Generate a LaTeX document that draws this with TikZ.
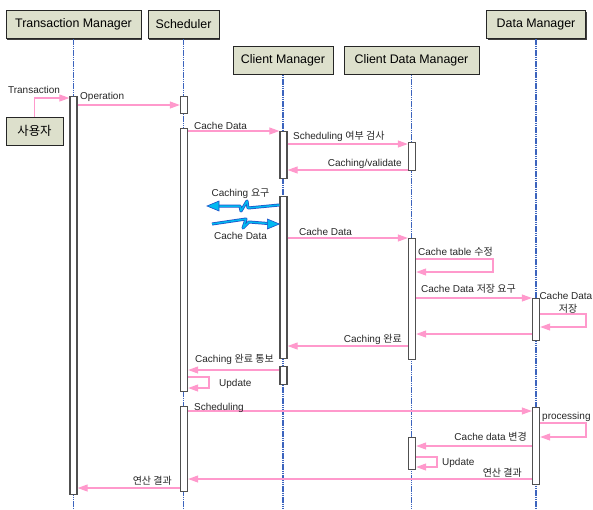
\documentclass[tikz,border=0pt]{standalone}
\usepackage{fontspec}
\setmainfont{Liberation Sans}
\newfontfamily\kr{Noto Sans CJK KR}
\usetikzlibrary{arrows.meta,positioning,shadows}
\definecolor{hdrfill}{RGB}{221,224,204}
\definecolor{msgpink}{RGB}{255,153,204}
\definecolor{lifeblue}{RGB}{60,100,190}
\definecolor{boltcyan}{RGB}{0,185,240}
\definecolor{boltblue}{RGB}{30,80,200}
\definecolor{actgray}{RGB}{80,80,80}

\begin{document}
\begin{tikzpicture}[x=1pt,y=-1pt,
	hdr/.style={draw=black!85, fill=hdrfill, line width=1pt, minimum height=28pt, inner sep=0pt,
		font=\fontsize{12.4}{14}\selectfont, drop shadow={shadow xshift=1.2pt,shadow yshift=-1.2pt,fill=black!75,opacity=1}},
	life/.style={draw=lifeblue, line width=1.1pt, dash pattern=on 1.6pt off .6pt},
	act/.style={draw=actgray, fill=white, line width=1.3pt, minimum width=7pt, inner sep=0pt, anchor=north},
	msg/.style={draw=msgpink, line width=1.1pt, -{Triangle[length=10pt,width=7pt]}},
	lbl/.style={font=\fontsize{10}{12}\selectfont, inner sep=0pt, text=black!85},
	bolt/.style={draw=boltblue, line width=3pt, line join=round},
	boltin/.style={draw=boltcyan, line width=1.5pt, line join=round},
	bolthead/.style={fill=boltcyan, draw=boltblue, line width=.6pt}]
	\useasboundingbox (0,0) rectangle (593,509);
	% heads
	\node[hdr, minimum width=135pt] (tm) at (73.5,24.5) {Transaction Manager};
	\node[hdr, minimum width=71pt] (sc) at (183.5,24.5) {Scheduler};
	\node[hdr, minimum width=100pt] (cm) at (283,60) {Client Manager};
	\node[hdr, minimum width=135pt] (cdm) at (411.5,60) {Client Data Manager};
	\node[hdr, minimum width=99pt] (dm) at (536,24.5) {Data Manager};
	\node[hdr, minimum width=57pt] (us) at (34.5,131) {\kr 사용자};
	\foreach \h in {tm,sc,cm,cdm,dm}
		\draw[life] (\h.south) -- (\h.south |- 0,509);
	% activations
	\foreach \n/\x/\t/\b in {ta1/73.5/96/494, sa1/184/96/113, sa2/184/128/391, sa3/184/406/491,
			ca1/283.5/131/178, ca2/283.5/196/358, ca3/283.5/366/384,
			da1/412/142/170, da2/412/238/359, da3/412/437/469,
			ma1/536/298/340, ma2/536/407/484}
		\node[act, minimum height={(\b-\t)*1pt}] (\n) at (\x,\t) {};
	% messages
	\draw[msg] (us.north) |- (ta1.west |- 0,98);
	\node[lbl, anchor=base] (lTr) at (34,93) {Transaction};
	\draw[msg] (ta1.east |- 0,105) -- (sa1.west |- 0,105);
	\node[lbl, anchor=base west] (lOp) at (80,99.5) {Operation};
	\draw[msg] (sa2.east |- 0,131) -- (ca1.west |- 0,131);
	\node[lbl, anchor=base west] (lCd1) at (194,129) {Cache Data};
	\draw[msg] (ca1.east |- 0,144) -- (da1.west |- 0,144);
	\node[lbl, anchor=base west] (lSch) at (293,139) {Scheduling {\kr 여부 검사}};
	\draw[msg] (da1.west |- 0,170) -- (ca1.east |- 0,170);
	\node[lbl, anchor=base east] (lVal) at (402,166.5) {Caching/validate};
	% wireless
	\coordinate (bt1) at (207,206);
	\coordinate (bt2) at (212,224);
	\draw[bolt] (ca2.west |- 0,205) -- (248,208) -- (247,201) -- (241,211) -- (240,206) -- (218,206);
	\draw[boltin] (ca2.west |- 0,205) -- (248,208) -- (247,201) -- (241,211) -- (240,206) -- (218,206);
	\filldraw[bolthead] (bt1) -- ++(12,-5) -- ++(0,10) -- cycle;
	\node[lbl, anchor=base] (lReq) at (240.5,196.5) {Caching {\kr 요구}};
	\draw[bolt] (bt2) -- (246,219) -- (243,228) -- (249,222) -- (268,223.5);
	\draw[boltin] (bt2) -- (246,219) -- (243,228) -- (249,222) -- (268,223.5);
	\filldraw[bolthead] (ca2.west |- 0,224) -- ++(-12,-5) -- ++(0,10) -- cycle;
	\node[lbl, anchor=base] (lCd2) at (240.5,239.5) {Cache Data};
	\draw[msg] (ca2.east |- 0,238) -- (da2.west |- 0,238);
	\node[lbl, anchor=base west] (lCd3) at (299,235) {Cache Data};
	\draw[msg] (da2.east |- 0,259) -| (493,272) -- (da2.east |- 0,272);
	\node[lbl, anchor=base west] (lTab) at (418,255.5) {Cache table {\kr 수정}};
	\draw[msg] (da2.east |- 0,298) -- (ma1.west |- 0,298);
	\node[lbl, anchor=base west] (lSave) at (421,292.5) {Cache Data {\kr 저장 요구}};
	\draw[msg] (ma1.east |- 0,314) -| (586,327) -- (ma1.east |- 0,327);
	\node[lbl, anchor=base east] (lCd4) at (592.5,299.5) {Cache Data};
	\node[lbl, anchor=base] (lSt) at (568,312) {\kr 저장};
	\draw[msg] (ma1.west |- 0,334) -- (da2.east |- 0,334);
	\draw[msg] (da2.west |- 0,346) -- (ca2.east |- 0,346);
	\node[lbl, anchor=base east] (lDone) at (402,342.5) {Caching {\kr 완료}};
	\draw[msg] (ca3.west |- 0,370) -- (sa2.east |- 0,370);
	\node[lbl, anchor=base west] (lNot) at (195,362.5) {Caching {\kr 완료 통보}};
	\draw[msg] (sa2.east |- 0,377) -| (209,388) -- (sa2.east |- 0,388);
	\node[lbl, anchor=base west] (lUp1) at (219,386.5) {Update};
	\draw[msg] (sa3.east |- 0,411) -- (ma2.west |- 0,411);
	\node[lbl, anchor=base west] (lSch2) at (194,410) {Scheduling};
	\draw[msg] (ma2.east |- 0,423) -| (586,437) -- (ma2.east |- 0,437);
	\node[lbl, anchor=base west] (lPro) at (542,419.5) {processing};
	\draw[msg] (ma2.west |- 0,446) -- (da3.east |- 0,446);
	\node[lbl, anchor=base east] (lChg) at (527,440.5) {Cache data {\kr 변경}};
	\draw[msg] (da3.east |- 0,457) -| (437,467) -- (da3.east |- 0,467);
	\node[lbl, anchor=base west] (lUp2) at (442,465.5) {Update};
	\draw[msg] (ma2.west |- 0,479) -- (sa3.east |- 0,479);
	\node[lbl, anchor=base east] (lRes1) at (522,476) {\kr 연산 결과};
	\draw[msg] (sa3.west |- 0,488) -- (ta1.east |- 0,488);
	\node[lbl, anchor=base east] (lRes2) at (172,484) {\kr 연산 결과};
\end{tikzpicture}
\end{document}
